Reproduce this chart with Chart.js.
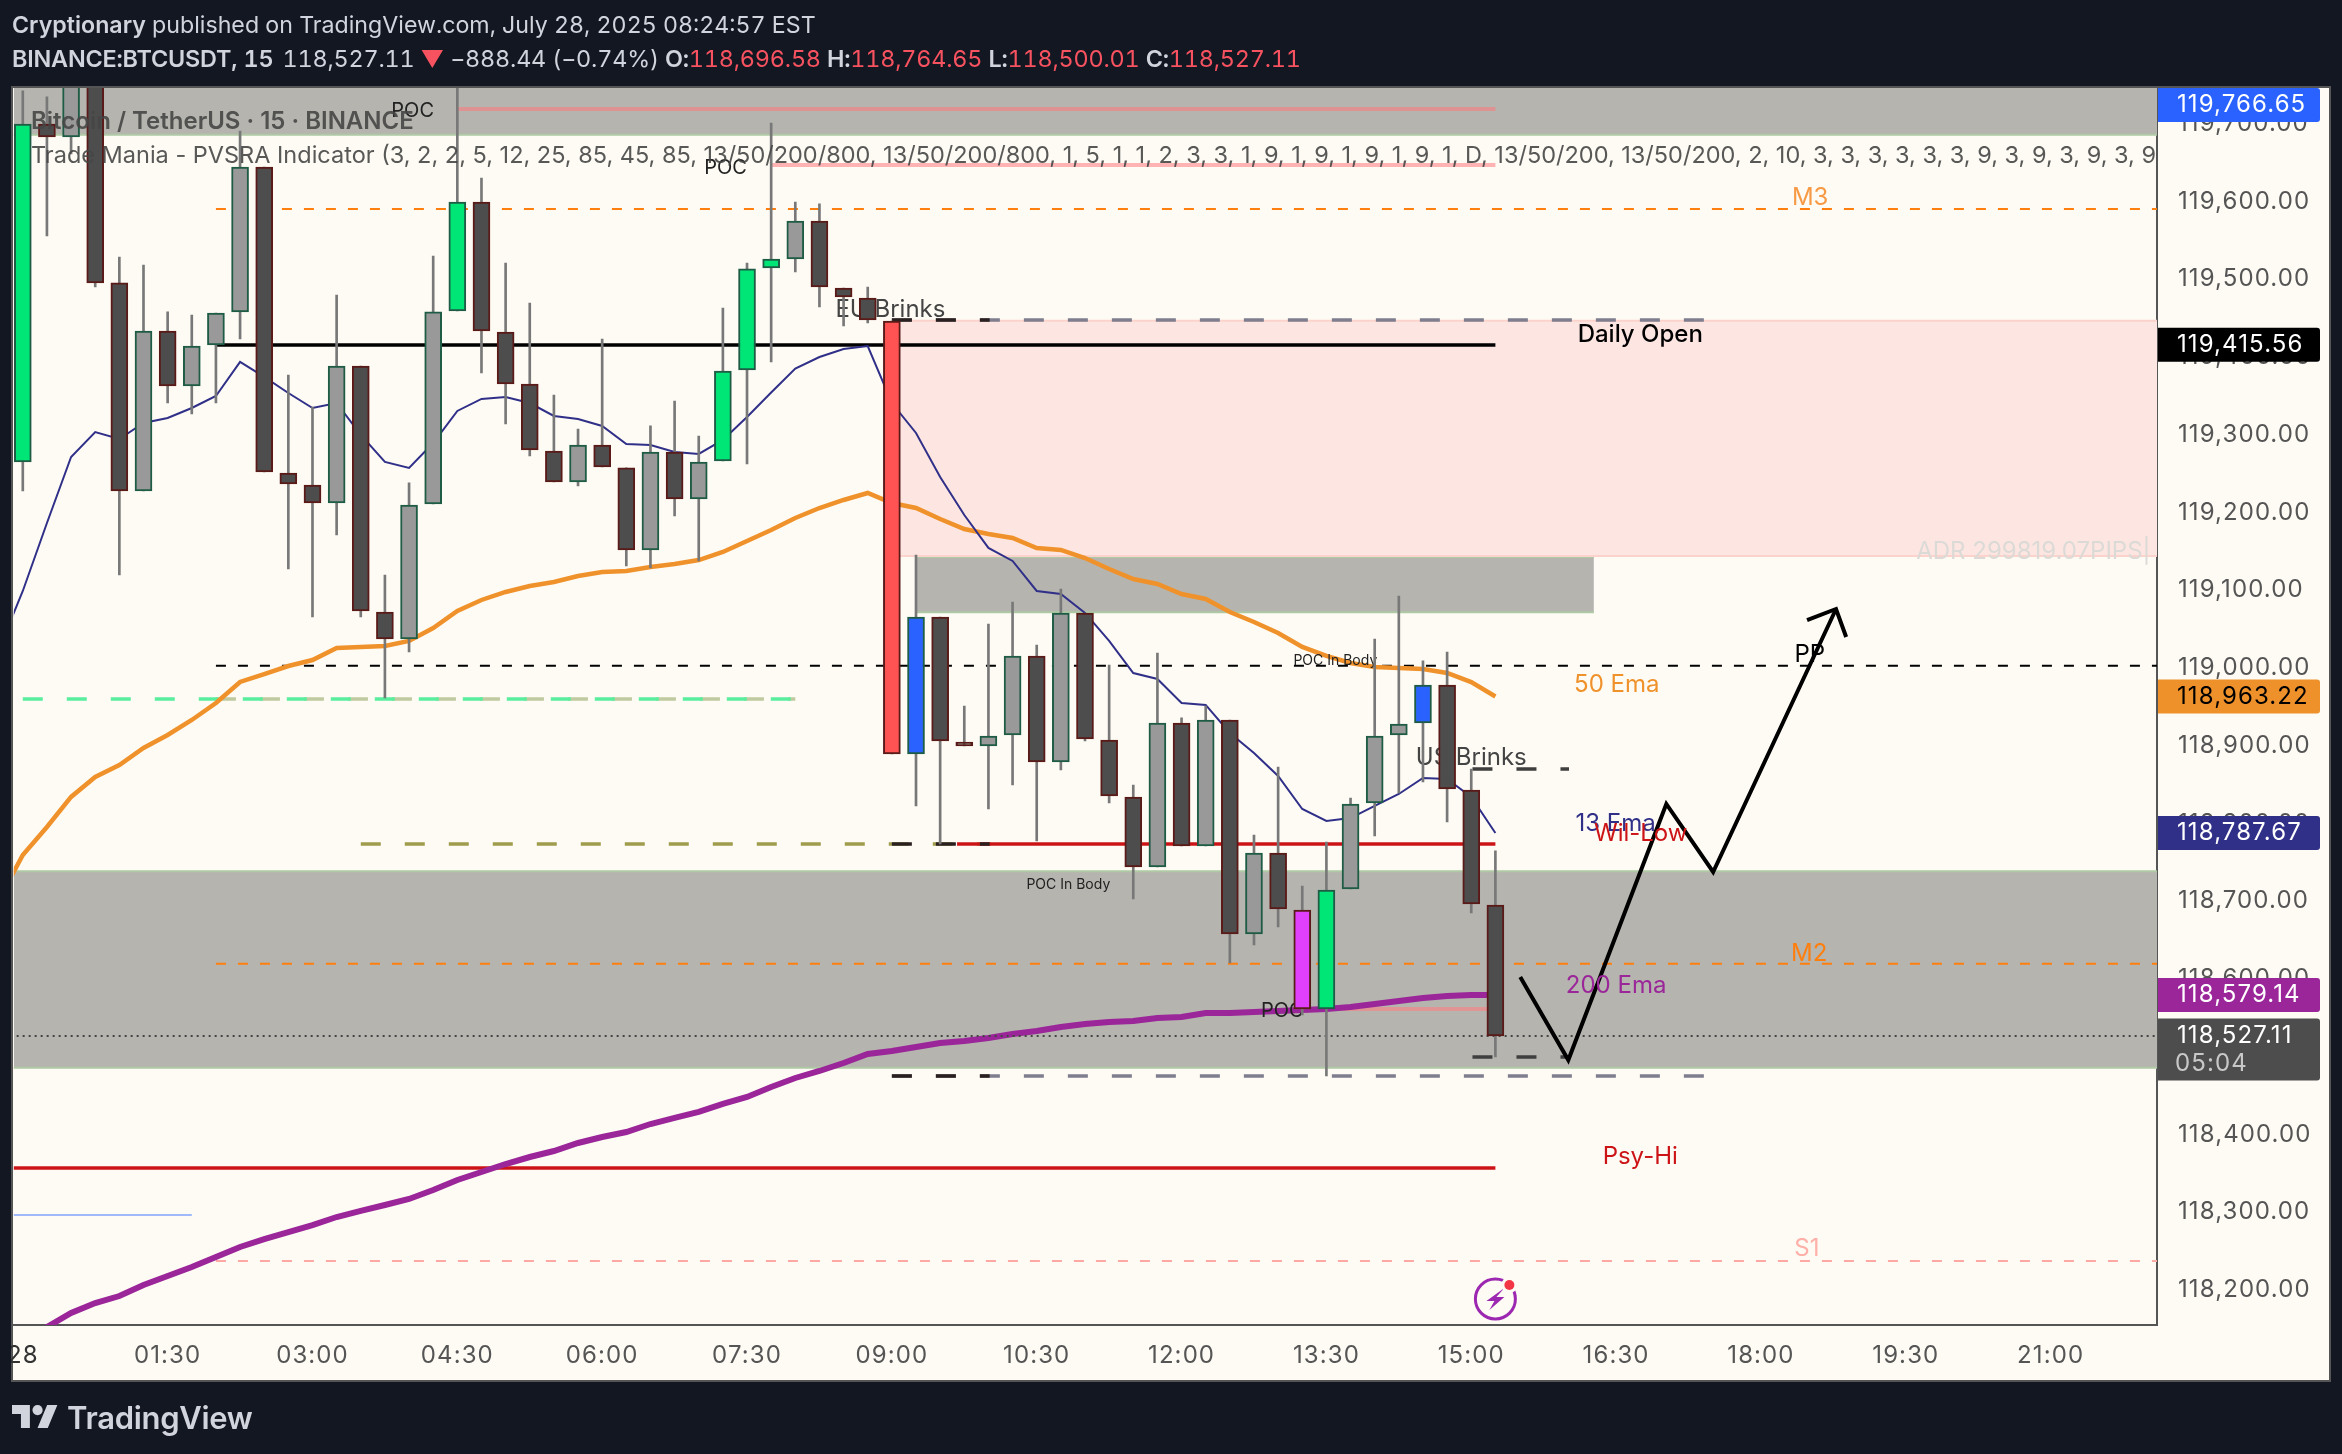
<!DOCTYPE html>
<html>
<head>
<meta charset="utf-8">
<title>BTCUSDT 15</title>
<script src="https://cdn.jsdelivr.net/npm/chart.js@4/dist/chart.umd.js"></script>
<style>
  html, body { margin: 0; padding: 0; background: #131722; width: 2342px; height: 1454px; overflow: hidden; }
  body { font-family: Inter, sans-serif; color: #d1d4dc; position: relative; }
  #pane { position: absolute; left: 11px; top: 86px; width: 2320px; height: 1296px; box-sizing: border-box; border: 2px solid #555; background: #fefbf4; }
  #myChart { position: absolute; left: 0; top: 0; }
  #gutter { position: absolute; left: 0; top: 1327px; width: 11px; height: 60px; background: #131722; }
  .head { position: absolute; left: 12px; font-size: 23.4px; line-height: 30px; white-space: pre; font-variant-numeric: tabular-nums; }
  .head b { font-weight: 600; }
  .head i { font-style: normal; color: #f7525f; }
  #logo { position: absolute; left: 12px; top: 1405px; }
  #brand { position: absolute; left: 67px; top: 1398px; font-size: 31px; line-height: 40px; font-weight: 600; letter-spacing: -0.3px; }
</style>
</head>
<body>
<div id="pane"></div>
<canvas id="myChart" width="2342" height="1454"></canvas>
<div id="gutter"></div>
<div class="head" style="top:10px;font-size:23.2px"><b>Cryptionary</b> published on TradingView.com, July 28, 2025 08:24:57 EST</div>
<div class="head" style="top:44px;letter-spacing:-0.19px"><b style="margin-right:3px">BINANCE:BTCUSDT, 15</b> 118,527.11 <i>▼</i> −888.44 (−0.74%) <b>O:</b><i>118,696.58</i> <b>H:</b><i>118,764.65</i> <b>L:</b><i>118,500.01</i> <b>C:</b><i>118,527.11</i></div>
<svg id="logo" width="46" height="23" viewBox="0 0 36 18"><path fill="#d1d4dc" d="M14 18H7V7H0V0h14v18zM28 18h-8L27.5 0h8L28 18z"/><circle fill="#d1d4dc" cx="20" cy="4" r="4"/></svg>
<div id="brand">TradingView</div>

<script>
// candles, 15 min, first one is 00:00 on the 28th
const opens = [119262.2,119696.8,119680.1,119779.1,119492.4,119224.9,119430.6,119359.9,119412.6,119455.1,
  119641.5,119248,119232.6,119209.4,119385.6,119069.3,119034.5,119208.2,119456.3,119596.5,
  119429.3,119362.5,119276.3,119236.4,119284,119254.5,119149,119275,119214.6,119263.5,
  119380.5,119511.7,119523.2,119572.1,119485.9,119473.1,119443.5,118886.7,119062.8,118902.1,
  118896.9,118911.1,119012.7,118876.4,119068,118904.7,118831.4,118741.3,118926.5,118768.4,
  118930.4,118655.2,118759.3,118686,118558.7,118713,118823.6,118911.1,118926.5,118975.4,
  118840.4,118692.5];
const highs = [119739.3,119731.6,119804.9,119804.9,119525.8,119515.5,119455.1,119451.2,119453.8,119687.8,
  119641.5,119374,119332.9,119476.9,119385.6,119116.8,119235.2,119527.1,119753.4,119627.4,
  119518.1,119466.6,119348.3,119304.6,119420.3,119254.5,119308.5,119340.6,119295.6,119460.2,
  119518.1,119698.1,119596.5,119594,119485.9,119487.2,119443.5,119142.6,119062.8,118948.4,
  119053.8,119082.1,119026.8,119098.8,119068,119001.1,118846.8,119016.5,118933,118948.4,
  118930.4,118782.5,118869.9,118716.9,118773.5,118830.1,119034.5,119089.8,119006.3,119017.8,
  118867.4,118762];
const lows = [119224.9,119552.8,119658.3,119487.2,119116.8,119224.9,119338,119323.9,119338,119420.3,
  119249.3,119124.6,119062.8,119168.3,119062.8,118958.7,119017.8,119208.2,119456.3,119376.6,
  119311,119269.9,119236.4,119231.3,119255.7,119128.4,119125.9,119192.7,119134.9,119263.5,
  119259.6,119390.8,119506.5,119461.5,119437.1,119440.9,118886.7,118819.8,118770.9,118896.9,
  118815.9,118846.8,118774.8,118866.1,118903.4,118823.6,118700.2,118741.3,118768.4,118768.4,
  118617.9,118641,118664.2,118551,118472.6,118713,118781.2,118836.5,118850.6,118799.2,
  118682.2,118497];
const closes = [119696.8,119680.1,119779.1,119492.4,119224.9,119430.6,119359.9,119411.3,119453.8,119641.5,
  119249.3,119233.9,119209.4,119385.6,119070.6,119034.5,119206.9,119455.1,119596.5,119430.6,
  119362.5,119277.6,119236.4,119284,119255.7,119149,119275,119214.6,119262.2,119379.2,
  119510.4,119523.2,119572.1,119487.2,119474.4,119444.8,118886.7,119062.8,118903.4,118896.9,
  118909.8,119012.7,118876.4,119068,118905.9,118832.6,118741.3,118926.5,118768.4,118930.4,
  118655.2,118759.3,118687.3,118558.7,118711.8,118822.4,118909.8,118925.2,118975.4,118841.6,
  118693.8,118524];

// PVSRA volume classes, by candle index
const climaxUp = [0,18,29,30,31,54];
const climaxDown = [36];
const risingUp = [37,58];
const risingDown = [53];

// EMAs, first value is one bar before the first candle
const ema13 = [119020.4,119096.3,119183.7,119268.6,119300.7,119291.7,119312.3,119318.8,119331.6,119347,119390.8,
  119371.5,119350.9,119331.6,119338,119296.9,119262.2,119254.5,119286.6,119327.8,119343.2,
  119345.8,119338,119321.3,119317.5,119308.5,119285.3,119284,119275,119272.5,119290.5,
  119320,119351.5,119382.4,119397.2,119407.5,119411.3,119338,119299.5,119242.9,119194,
  119151.6,119134.9,119096.3,119092.4,119068,119032,118990.8,118983.1,118952.2,118949.7,
  118913.7,118887.9,118858.4,118815.9,118800.5,118804.3,118819.8,118835.2,118855.8,118854.5,
  118831.4,118785];
const ema50 = [118698.9,118756.8,118792.8,118831.4,118857.1,118872.5,118894.4,118911.1,118930.4,118952.2,118979.3,
  118989.5,118999.8,119007.5,119023,119024.3,119025.5,119032,119048.7,119070.6,119084.7,
  119095,119102.7,119107.8,119115.6,119120.7,119122,119127.1,119131,119136.1,119146.4,
  119160.6,119174.7,119190.2,119203,119213.3,119222.3,119209.4,119203,119188.9,119176,
  119169.6,119164.4,119151.6,119149,119138.7,119124.6,119111.7,119105.3,119092.4,119086,
  119069.3,119056.4,119042.3,119024.3,119012.7,119003.7,118998.5,118997.3,118996,118990.8,
  118979.2,118960.6];
const ema200 = [118120,118133.1,118149.8,118167.8,118180.6,118189.6,118203.8,118215.4,118226.9,118239.8,118252.7,
  118262.9,118271.9,118280.9,118291.2,118299,118306.7,118314.4,118326,118338.8,118349.1,
  118359.4,118368.4,118376.1,118386.4,118394.1,118400.5,118410.8,118418.6,118426.3,118436.6,
  118445.6,118458.4,118470,118479,118489.3,118500.9,118504.7,118509.9,118515,118517.6,
  118521.4,118526.6,118530.4,118535.6,118539.4,118542,118543.3,118547.2,118548.4,118553.6,
  118553.6,118554.9,118556.2,118557.4,118558.7,118561.3,118565.2,118569,118572.9,118575.4,
  118576.7,118576.7];

// drawn arrow, bar index / price
const arrowBars = [62.03,64.02,68.08,70.02,75.11];
const arrowPrices = [118599.9,118493.1,118822.4,118734.9,119073.1];
const arrowHeadBars = [73.91,75.11,75.53];
const arrowHeadPrices = [119058.9,119073.1,119037.1];

// axis
const priceTicks = [119700,119600,119500,119400,119300,119200,119100,119000,118900,118800,118700,118600,118500,118400,118300,118200];
const timeLabels = ["28","01:30","03:00","04:30","06:00","07:30","09:00","10:30","12:00","13:30","15:00","16:30","18:00","19:30","21:00"];

// price tags on the right
const tagPrices = [119766.65,119415.56,118963.22,118787.67,118579.14,118527.11];
const tagColors = ["#2962ff","#000000","#ee912b","#303089","#9a2699","#4d4d4d"];
const tagTextColors = ["#fff","#fff","#000","#fff","#fff","#fff"];
const countdown = "05:04";

const axisFont = "Inter, sans-serif";
// tick text sits a touch lower than the marks
const tickNudge = 2.6;

function level(x1, x2, price, color, width, dash, order) {
  return {
    type: "line",
    data: [{ x: x1, y: price }, { x: x2, y: price }],
    borderColor: color,
    borderWidth: width,
    borderDash: dash || [],
    pointRadius: 0,
    order: order || 20
  };
}

function band(x1, x2, top, bottom, color, edge) {
  return [
    {
      type: "line",
      data: [{ x: x1, y: top }, { x: x2, y: top }],
      borderColor: edge,
      borderWidth: 2,
      backgroundColor: color,
      fill: { value: bottom },
      pointRadius: 0,
      order: 40
    },
    level(x1, x2, bottom, edge, 2, null, 39)
  ];
}

function emaLine(values, color, width) {
  return {
    type: "line",
    data: values.map((v, i) => ({ x: i - 1, y: v })),
    borderColor: color,
    borderWidth: width,
    pointRadius: 0,
    tension: 0,
    order: 10
  };
}

function bodyColor(i) {
  if (climaxUp.includes(i)) return "#00e676";
  if (climaxDown.includes(i)) return "#ff5252";
  if (risingUp.includes(i)) return "#2962ff";
  if (risingDown.includes(i)) return "#e040fb";
  return closes[i] >= opens[i] ? "#999999" : "#4d4d4d";
}

const arrowXY = arrowBars.map((b, i) => ({ x: b, y: arrowPrices[i] }));
const headXY = arrowHeadBars.map((b, i) => ({ x: b, y: arrowHeadPrices[i] }));
const lastBar = 61;
const rightEdge = 88.406;

const labels = [
  { t: "POC", x: 16.15, y: 119716.1, c: "#222", s: 20 },
  { t: "POC", x: 29.11, y: 119642.8, c: "#222", s: 20 },
  { t: "EU Brinks", x: 35.94, y: 119460.2, c: "#444", s: 24 },
  { t: "Daily Open", x: 67, y: 119428.1, c: "#000", s: 24, w: 500 },
  { t: "M3", x: 74.04, y: 119604.2, c: "#f79a45", s: 24 },
  { t: "ADR 299819.07PIPS|", x: 78.43, y: 119149, c: "#dcdad6", s: 24, a: "left" },
  { t: "PP", x: 74.02, y: 119016.5, c: "#000", s: 24 },
  { t: "POC In Body", x: 54.37, y: 119008.8, c: "#222", s: 14 },
  { t: "50 Ema", x: 66.03, y: 118978, c: "#f0922b", s: 24 },
  { t: "US Brinks", x: 60, y: 118884.1, c: "#444", s: 24 },
  { t: "13 Ema", x: 65.98, y: 118799.2, c: "#303089", s: 24 },
  { t: "Wil-Low", x: 67.02, y: 118786.3, c: "#cc1417", s: 24 },
  { t: "POC In Body", x: 43.31, y: 118720.8, c: "#222", s: 14 },
  { t: "M2", x: 74, y: 118632, c: "#ff7f0e", s: 24 },
  { t: "200 Ema", x: 66, y: 118590.9, c: "#9a2699", s: 24 },
  { t: "POC", x: 52.17, y: 118558.7, c: "#222", s: 20 },
  { t: "Psy-Hi", x: 67, y: 118371, c: "#cc1417", s: 24 },
  { t: "S1", x: 73.9, y: 118252.7, c: "#ffb0a8", s: 24 }
];

const annotations = {
  id: "annotations",
  // axis digits in the reference are tabular, so they run wider
  beforeDraw(chart) {
    chart.ctx.letterSpacing = "1.1px";
  },
  // labels sit under the candles but over lines and zones
  beforeDatasetDraw(chart, args) {
    if (chart.data.datasets[args.index].label !== "wicks") return;
    const ctx = chart.ctx;
    ctx.save();
    ctx.letterSpacing = "0px";
    ctx.textBaseline = "middle";
    labels.forEach(l => {
      ctx.font = (l.w || 400) + " " + l.s + "px " + axisFont;
      ctx.fillStyle = l.c;
      ctx.textAlign = l.a || "center";
      ctx.fillText(l.t, chart.scales.x.getPixelForValue(l.x), chart.scales.y.getPixelForValue(l.y) + 2);
    });
    ctx.restore();
  },
  afterDraw(chart) {
    const ctx = chart.ctx;
    const area = chart.chartArea;
    const yScale = chart.scales.y;

    // legend text
    ctx.save();
    ctx.letterSpacing = "0px";
    ctx.beginPath();
    ctx.rect(area.left, area.top, area.right - area.left, area.bottom - area.top);
    ctx.clip();
    ctx.textAlign = "left";
    ctx.textBaseline = "middle";
    ctx.fillStyle = "rgba(70,70,70,0.9)";
    ctx.font = "600 24px " + axisFont;
    ctx.fillText("Bitcoin / TetherUS · 15 · BINANCE", 31, 122);
    ctx.font = "400 23.5px " + axisFont;
    ctx.fillText("Trade Mania - PVSRA Indicator (3, 2, 2, 5, 12, 25, 85, 45, 85, 13/50/200/800, 13/50/200/800, 1, 5, 1, 1, 2, 3, 3, 1, 9, 1, 9, 1, 9, 1, 9, 1, D, 13/50/200, 13/50/200, 2, 10, 3, 3, 3, 3, 3, 3, 9, 3, 9, 3, 9, 3, 9", 31, 156);

    // alert icon at the last bar
    const cx = chart.scales.x.getPixelForValue(lastBar);
    const cy = 1299;
    ctx.strokeStyle = "#9c27b0";
    ctx.lineWidth = 3;
    ctx.beginPath();
    ctx.arc(cx, cy, 20, 0, Math.PI * 2);
    ctx.stroke();
    ctx.fillStyle = "#9c27b0";
    ctx.beginPath();
    ctx.moveTo(cx + 9, cy - 11);
    ctx.lineTo(cx - 9, cy + 2);
    ctx.lineTo(cx - 1, cy + 2);
    ctx.lineTo(cx - 6, cy + 11);
    ctx.lineTo(cx + 9, cy - 2);
    ctx.lineTo(cx + 1, cy - 2);
    ctx.closePath();
    ctx.fill();
    ctx.fillStyle = "#fefbf4";
    ctx.beginPath();
    ctx.arc(cx + 14, cy - 14, 8, 0, Math.PI * 2);
    ctx.fill();
    ctx.fillStyle = "#f23645";
    ctx.beginPath();
    ctx.arc(cx + 14, cy - 14, 5, 0, Math.PI * 2);
    ctx.fill();
    ctx.restore();

    // price tags
    ctx.save();
    ctx.textAlign = "left";
    ctx.textBaseline = "middle";
    ctx.font = "400 24px " + axisFont;
    tagPrices.forEach((p, i) => {
      const y = Math.max(yScale.getPixelForValue(p) + 2, area.top + 17);
      const last = i === tagPrices.length - 1;
      const h = last ? 62 : 34;
      ctx.fillStyle = tagColors[i];
      ctx.beginPath();
      ctx.roundRect(area.right + 1, y - 17, 162, h, [0, 3, 3, 0]);
      ctx.fill();
      ctx.fillStyle = tagTextColors[i];
      const text = p.toLocaleString("en-US", { minimumFractionDigits: 2 });
      ctx.fillText(text, area.right + 20, y);
      if (last) {
        ctx.fillStyle = "#c8c8c8";
        ctx.fillText(countdown, area.right + 18, y + 28);
      }
    });
    ctx.restore();
  }
};

const wickData = highs.map((h, i) => ({ x: i, y: [lows[i], h] }));
const bodyData = opens.map((o, i) => ({ x: i, y: [o, closes[i]] }));

const ctx = document.getElementById("myChart").getContext("2d");
const myChart = new Chart(ctx, {
  type: "bar",
  plugins: [annotations],
  data: {
    datasets: [
      {
        label: "bodies",
        data: bodyData,
        backgroundColor: opens.map((o, i) => bodyColor(i)),
        borderColor: opens.map((o, i) => closes[i] >= o ? "#1e5c46" : "#5a1a18"),
        borderWidth: 2,
        borderSkipped: false,
        barThickness: 17,
        grouped: false,
        order: 1
      },
      {
        label: "wicks",
        data: wickData,
        backgroundColor: "#787878",
        borderWidth: 0,
        barThickness: 2,
        grouped: false,
        order: 2
      },
      emaLine(ema13, "#303089", 2),
      emaLine(ema50, "#f0922b", 4.5),
      emaLine(ema200, "#9a2699", 6),
      { type: "line", data: arrowXY, borderColor: "#000", borderWidth: 4, pointRadius: 0, order: 5 },
      { type: "line", data: headXY, borderColor: "#000", borderWidth: 4, pointRadius: 0, order: 5 },
      level(-1, rightEdge, 118524, "#444", 2, [2, 4], 6),
      // daily open, weekly low, psych high
      level(8, lastBar, 119412.6, "#000", 3.5),
      level(38.7, lastBar, 118770.9, "#cc1417", 3.5),
      level(-1, lastBar, 118354.3, "#cc1417", 3.5),
      level(-1, 7, 118293.8, "#9fb9fb", 2),
      // monthly pivots
      level(8, rightEdge, 119587.5, "#ff7f0e", 2, [10, 12]),
      level(8, rightEdge, 119000.2, "#000", 2, [10, 12]),
      level(8, rightEdge, 118617, "#ff7f0e", 2, [10, 12]),
      level(8, rightEdge, 118234.7, "#ffa8a4", 2, [10, 12]),
      // asia range dashes
      level(0, 32, 118957.4, "#58ee9e", 3.5, [20, 24]),
      level(8, 32, 118957.4, "rgba(140,160,90,0.55)", 3.5, [20, 24]),
      level(14, 40.1, 118770.9, "#a09c4e", 3.5, [20, 24]),
      // brinks boxes
      level(36, 40.05, 119444.8, "#2a2020", 3.5, [20, 24], 18),
      level(36, 40.05, 118770.9, "#2a2020", 3.5, [20, 24], 18),
      level(36, 40.05, 118472.6, "#2a2020", 3.5, [20, 24], 18),
      level(36, 69.7, 119444.8, "#7e7e8e", 3.5, [20, 24], 19),
      level(36, 69.7, 118472.6, "#7e7e8e", 3.5, [20, 24], 19),
      level(60.05, 64.05, 118867.4, "#3f3f3f", 3.5, [20, 24]),
      level(60.05, 64.05, 118497, "#3f3f3f", 3.5, [20, 24]),
      // POC lines
      level(18, lastBar, 119716.1, "#de9292", 4, null, 21),
      level(31, lastBar, 119644.1, "#ffb3b3", 4, null, 21),
      level(54, lastBar, 118558.7, "#e09494", 4, null, 21),
      ...band(-1, rightEdge, 119900, 119683, "#b5b4af", "#aec9a4"),
      ...band(37, 65.08, 119140, 119068.9, "#b5b4af", "#aec9a4"),
      ...band(-1, rightEdge, 118735.8, 118483.2, "#b5b4af", "#aec9a4"),
      ...band(36, rightEdge, 119443.9, 119141.3, "#fde6e1", "#fbd3cc")
    ]
  },
  options: {
    responsive: false,
    animation: false,
    events: [],
    layout: { padding: { left: 13, top: 88, right: 12, bottom: 74 } },
    plugins: { legend: { display: false }, tooltip: { enabled: false } },
    scales: {
      x: {
        type: "linear",
        offset: false,
        min: -0.3727,
        max: rightEdge,
        grid: { display: false },
        border: { display: true, color: "#555", width: 2 },
        afterFit: s => { s.height = 55; },
        afterBuildTicks: s => { s.ticks = timeLabels.map((t, i) => ({ value: i * 6 })); },
        ticks: {
          autoSkip: false,
          maxRotation: 0,
          padding: 8,
          color: c => c.index === 0 ? "#333" : "#555",
          font: { family: axisFont, size: 24 },
          callback: v => timeLabels[v / 6]
        }
      },
      y: {
        position: "right",
        min: 118152.35,
        max: 119743.1,
        grid: { display: false },
        border: { display: true, color: "#555", width: 2 },
        afterFit: s => { s.width = 173; },
        afterBuildTicks: s => { s.ticks = priceTicks.map(v => ({ value: v - tickNudge })); },
        ticks: {
          autoSkip: false,
          padding: 13,
          color: "#555",
          font: { family: axisFont, size: 24 },
          callback: v => (v + tickNudge).toLocaleString("en-US", { minimumFractionDigits: 2 })
        }
      }
    }
  }
});
</script>
</body>
</html>
